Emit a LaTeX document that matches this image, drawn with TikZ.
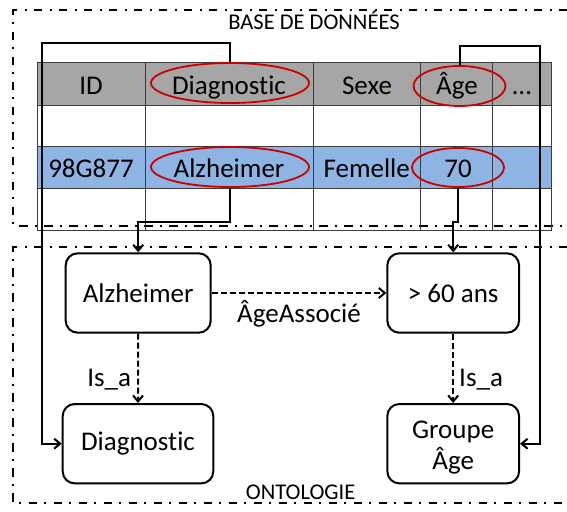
\documentclass[tikz,border=0pt]{standalone}
\usepackage{fontspec}
\setmainfont{Carlito}[Ligatures={NoCommon,NoDiscretionary}]
\usetikzlibrary{shapes.geometric,arrows.meta}
\definecolor{hdrgray}{RGB}{166,166,166}
\definecolor{rowblue}{RGB}{141,180,226}
\definecolor{ellred}{RGB}{204,0,0}
\definecolor{gridgray}{RGB}{60,60,60}
\begin{document}
\begin{tikzpicture}[x=1pt,y=-1pt,
  big/.style={font=\fontsize{27}{31}\selectfont},
  small/.style={font=\fontsize{22.5}{26}\selectfont},
  cell/.style={big,anchor=base,inner sep=0pt},
  redell/.style={ellipse,draw=ellred,line width=1.8pt,inner sep=0pt},
  framebox/.style={line width=2pt,dash pattern=on 8.5pt off 7pt on 2pt off 7.5pt},
  concept/.style={draw,rounded corners=12pt,line width=2pt,big,align=center,inner sep=0pt,minimum height=79.4pt},
  link/.style={line width=2pt,-{Straight Barb[length=6pt,width=10pt]}},
  rel/.style={link,dash pattern=on 6pt off 3pt},
]
\useasboundingbox (0,0) rectangle (567,511);

% frames
\draw[framebox] (567,10.5) -- (13.3,10.5) -- (13.3,226) -- (567,226);
\draw[framebox] (567,247) -- (13.3,247) -- (13.3,503) -- (567,503);
\node[small,anchor=base,inner sep=0pt] (tdb) at (314,30) {BASE DE DONNÉES};
\node[small,anchor=base,inner sep=0pt] (tonto) at (300.6,499.5) {ONTOLOGIE};

% table
\fill[hdrgray] (37.3,62.7) rectangle (551.7,105);
\fill[rowblue] (37.3,146.7) rectangle (551.7,188);
\draw[gridgray,line width=0.9pt] (37.3,62.7) rectangle (551.7,230);
\foreach \yy in {105,146.7,188} \draw[gridgray,line width=0.9pt] (37.3,\yy) -- (551.7,\yy);
\foreach \xx in {145,313.3,420.7,492.7} \draw[gridgray,line width=0.9pt] (\xx,62.7) -- (\xx,230);

\node[cell] (hID) at (91,94) {ID};
\node[cell] (hDiag) at (229,94) {Diagnostic};
\node[cell] (hSexe) at (367,94) {Sexe};
\node[cell] (hAge) at (457,94) {Âge};
\node[cell] (hDots) at (522,94) {…};
\node[cell] (vID) at (91,177.7) {98G877};
\node[cell] (vDiag) at (229,177.7) {Alzheimer};
\node[cell] (vSexe) at (366.7,177.7) {Femelle};
\node[cell] (vAge) at (458,177.7) {70};

% red ellipses
\node[redell,minimum width=158pt,minimum height=40pt] (eDiag) at (230,83) {};
\node[redell,minimum width=158pt,minimum height=40pt] (eAlz) at (230,167) {};
\node[redell,minimum width=92pt,minimum height=40pt] (eAge) at (459.5,86) {};
\node[redell,minimum width=92pt,minimum height=39pt] (e70) at (458,167.5) {};

% ontology concepts
\node[concept,minimum width=145pt] (bAlz) at (138.2,293) {Alzheimer};
\node[concept,minimum width=131.7pt] (b60) at (453.2,293) {> 60 ans};
\node[concept,minimum width=150.6pt] (bDiag) at (138,443.7) {Diagnostic};
\node[concept,minimum width=131.7pt] (bGrp) at (453.2,443.7) {\rule{0pt}{25pt}Groupe\\Âge};

% connectors
\coordinate (cL) at (42,42.7);
\coordinate (cR) at (540,45.7);
\draw[link] (eDiag.north) |- (cL) |- (bDiag.west);
\draw[link] (eAge.north) |- (cR) |- (bGrp.east);
\draw[link] (eAlz.south) -- ++(0,34) -| (bAlz.north);
\draw[link] (e70.south) -- ++(0,34) -| (b60.north);

\draw[rel] (bAlz.east) -- (b60.west)
  node[big,pos=0.5,anchor=base,yshift=-29.5pt,inner sep=0pt] (lAge) {ÂgeAssocié};
\draw[rel] (bAlz.south) -- (bDiag.north)
  node[big,pos=0.757,anchor=base east,xshift=-6pt,inner sep=0pt] (lIs1) {Is\_a};
\draw[rel] (b60.south) -- (bGrp.north)
  node[big,pos=0.757,anchor=base west,xshift=5pt,inner sep=0pt] (lIs2) {Is\_a};
\end{tikzpicture}
\end{document}
